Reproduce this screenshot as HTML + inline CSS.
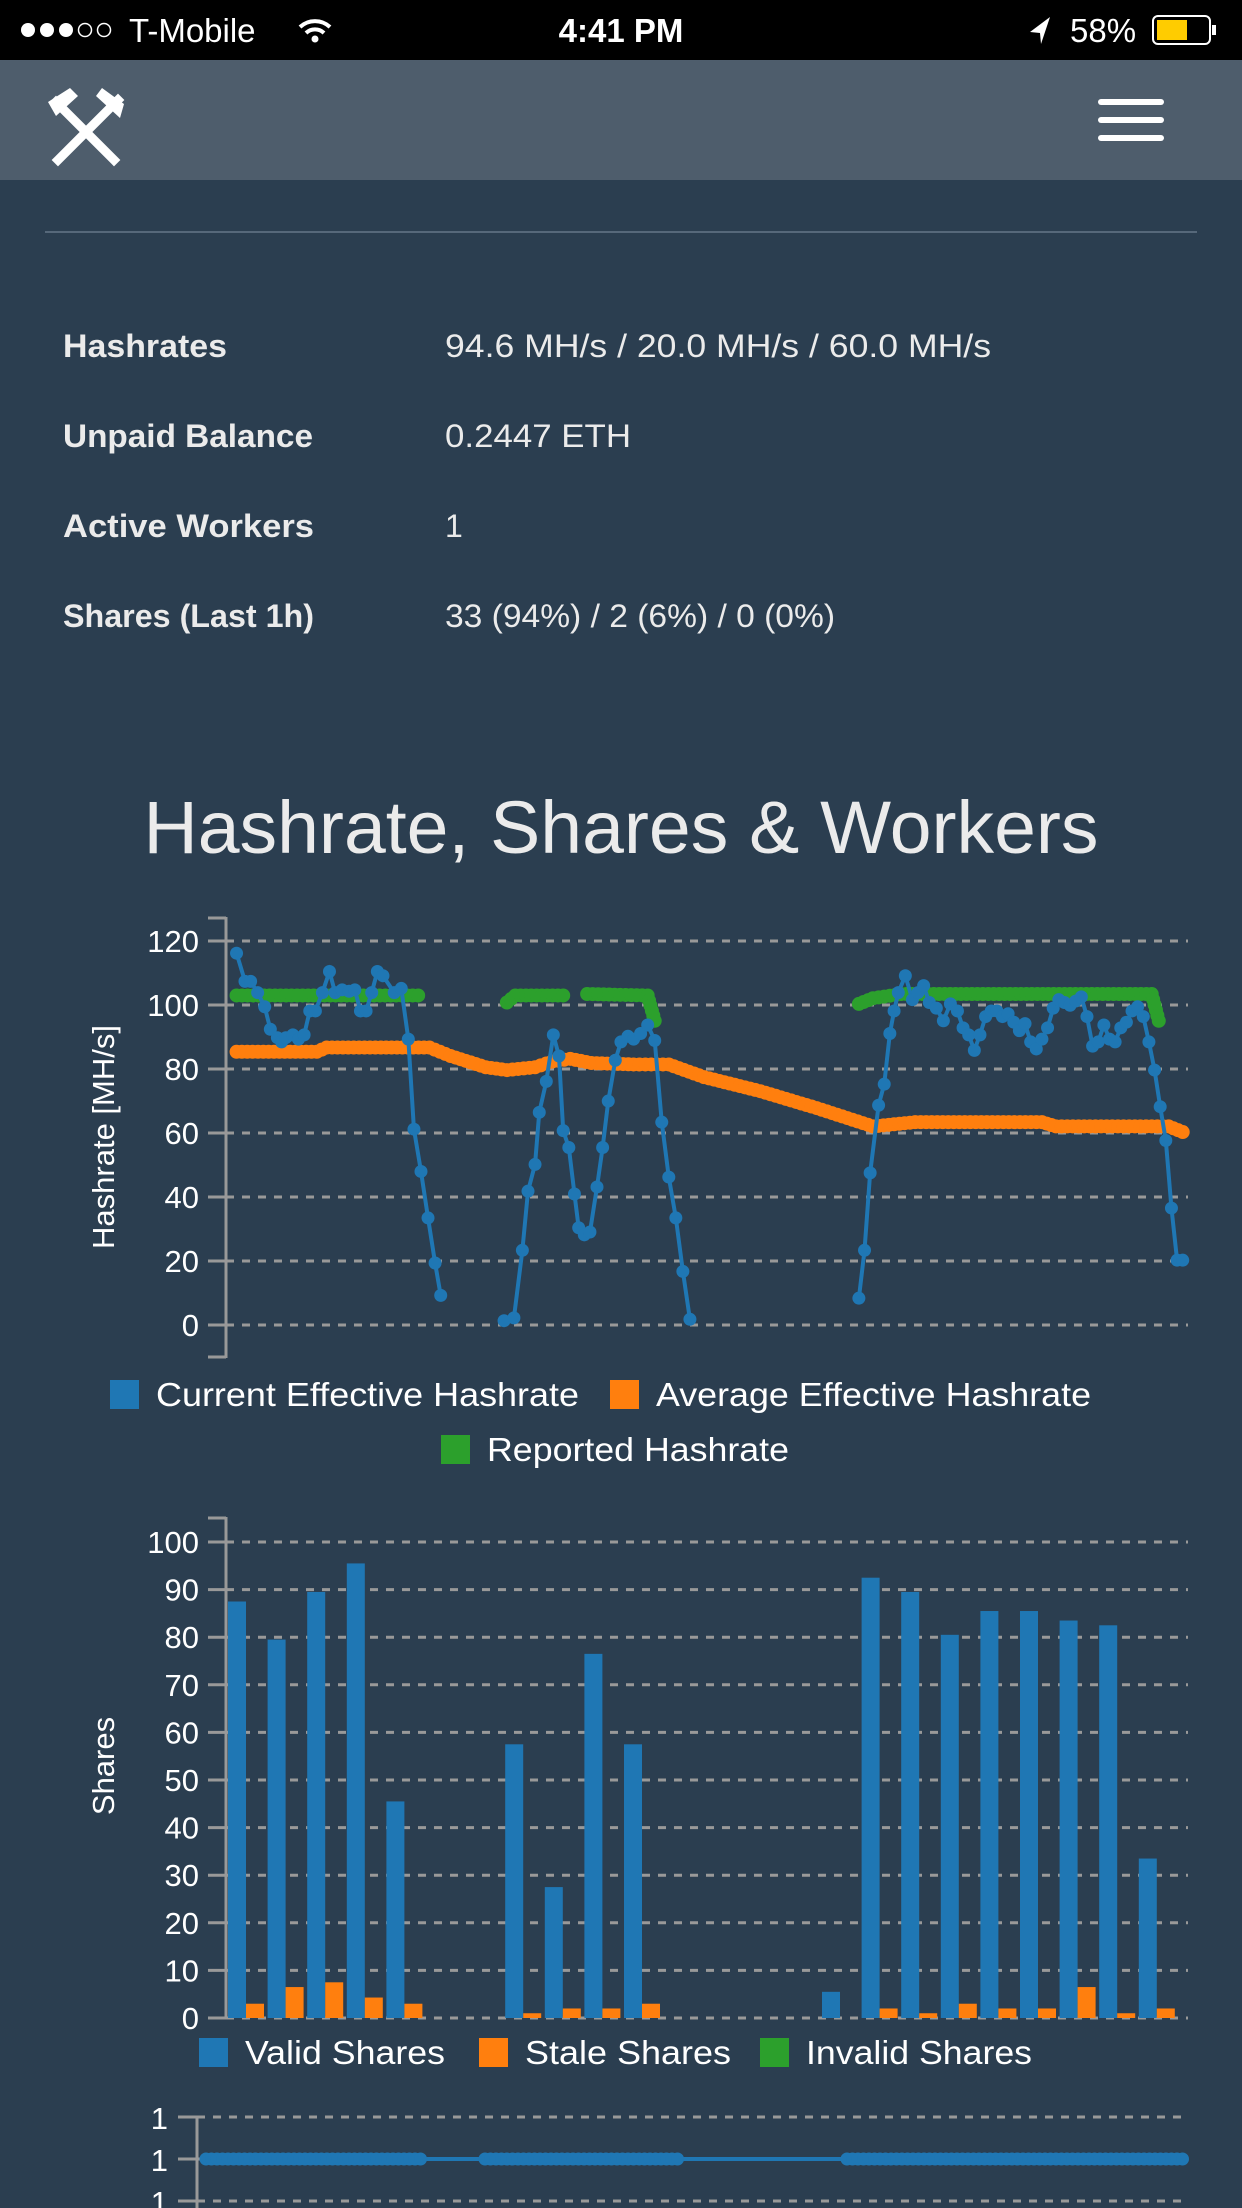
<!DOCTYPE html>
<html><head><meta charset="utf-8"><style>
html,body{margin:0;padding:0;background:#2b3e50;width:1242px;height:2208px;overflow:hidden;font-family:"Liberation Sans",sans-serif}
svg{display:block}
</style></head><body>
<svg id="s" width="1242" height="2208" viewBox="0 0 1242 2208" xmlns="http://www.w3.org/2000/svg" font-family="Liberation Sans, sans-serif">
<rect width="1242" height="2208" fill="#2b3e50"/>
<rect width="1242" height="60" fill="#000"/>
<g fill="#fff"><circle cx="28" cy="30" r="7"/><circle cx="47" cy="30" r="7"/><circle cx="66" cy="30" r="7"/></g>
<g fill="none" stroke="#fff" stroke-width="1.5"><circle cx="85" cy="30" r="6.5"/><circle cx="104" cy="30" r="6.5"/></g>
<text x="129" y="42" fill="#fff" font-size="33">T-Mobile</text>
<g fill="none" stroke="#fff" stroke-width="4"><path d="M300 27 a22 22 0 0 1 30 0"/><path d="M306 33 a13 13 0 0 1 18 0"/></g><circle cx="315" cy="39" r="3.5" fill="#fff"/>
<text x="621" y="42" fill="#fff" font-size="33" font-weight="bold" text-anchor="middle">4:41 PM</text>
<path d="M1050 17 L1030 32 L1040 33 L1041 44 Z" fill="#fff"/>
<text x="1070" y="42" fill="#fff" font-size="33">58%</text>
<rect x="1153" y="16" width="57" height="28" rx="5" fill="none" stroke="#fff" stroke-width="2"/><rect x="1157" y="20" width="30" height="20" fill="#ffcc00"/><rect x="1212" y="25" width="4" height="10" fill="#fff"/>
<rect y="60" width="1242" height="120" fill="#4e5d6c"/>
<g stroke="#fff" stroke-width="9" stroke-linecap="square"><line x1="58" y1="160" x2="118" y2="100"/><line x1="114" y1="160" x2="56" y2="102"/></g>
<path d="M48 102 L70 88 L78 96 L56 116 Z M124 104 L102 88 L96 96 L120 118 Z" fill="#fff"/>
<g fill="#fff"><rect x="1098" y="99" width="66" height="6" rx="3"/><rect x="1098" y="117" width="66" height="6" rx="3"/><rect x="1098" y="135" width="66" height="6" rx="3"/></g>
<rect x="45" y="231" width="1152" height="2" fill="#56687a"/>
<g fill="#ebebeb" font-size="32" lengthAdjust="spacingAndGlyphs">
<text x="63" y="357" font-weight="bold" textLength="164" lengthAdjust="spacingAndGlyphs">Hashrates</text><text x="445" y="357" textLength="546" lengthAdjust="spacingAndGlyphs">94.6 MH/s / 20.0 MH/s / 60.0 MH/s</text>
<text x="63" y="447" font-weight="bold" textLength="250" lengthAdjust="spacingAndGlyphs">Unpaid Balance</text><text x="445" y="447" textLength="186" lengthAdjust="spacingAndGlyphs">0.2447 ETH</text>
<text x="63" y="537" font-weight="bold" textLength="251" lengthAdjust="spacingAndGlyphs">Active Workers</text><text x="445" y="537">1</text>
<text x="63" y="627" font-weight="bold" textLength="251" lengthAdjust="spacingAndGlyphs">Shares (Last 1h)</text><text x="445" y="627" textLength="390" lengthAdjust="spacingAndGlyphs">33 (94%) / 2 (6%) / 0 (0%)</text>
</g>
<text x="621" y="853" fill="#ebebeb" font-size="74" text-anchor="middle" textLength="955" lengthAdjust="spacingAndGlyphs">Hashrate, Shares &amp; Workers</text>
<g id="c1"></g><g id="c2"></g><g id="c3"></g>
</svg>
<script>
var NS="http://www.w3.org/2000/svg";
function el(p,t,a,txt){var e=document.createElementNS(NS,t);for(var k in a)e.setAttribute(k,a[k]);if(txt!=null)e.textContent=txt;p.appendChild(e);return e;}
var c1=document.getElementById('c1'),c2=document.getElementById('c2'),c3=document.getElementById('c3');
var G="#999";
var y0=1325,ppu=64/20;
function Y1(v){return y0-v*ppu;}
el(c1,'line',{x1:226,y1:917,x2:226,y2:1358,stroke:G,'stroke-width':3});
el(c1,'line',{x1:208,y1:918,x2:226,y2:918,stroke:G,'stroke-width':3});
el(c1,'line',{x1:208,y1:1357,x2:226,y2:1357,stroke:G,'stroke-width':3});
for(var v=0;v<=120;v+=20){var y=Y1(v);el(c1,'line',{x1:226,y1:y,x2:1188,y2:y,stroke:G,'stroke-width':3,'stroke-dasharray':'8,8'});el(c1,'line',{x1:208,y1:y,x2:226,y2:y,stroke:G,'stroke-width':3});el(c1,'text',{x:199,y:y+11,fill:'#fff','font-size':31,'text-anchor':'end'},v);}
el(c1,'text',{x:0,y:0,fill:'#fff','font-size':31,'text-anchor':'middle',transform:'translate(114,1137) rotate(-90)'},'Hashrate [MH/s]');
var S=1.408;
function conv(a){var r=[];for(var i=0;i<a.length;i+=2)r.push([a[i]*S,a[i+1]*S]);return r;}
function series(p,pts,col,rad,lw,dense){
 el(p,'polyline',{points:pts.map(function(q){return q[0]+','+q[1]}).join(' '),fill:'none',stroke:col,'stroke-width':lw});
 var ms=[];
 if(dense){for(var i=0;i<pts.length-1;i++){var a=pts[i],b=pts[i+1],d=Math.hypot(b[0]-a[0],b[1]-a[1]),n=Math.max(1,Math.round(d/dense));for(var j=0;j<n;j++)ms.push([a[0]+(b[0]-a[0])*j/n,a[1]+(b[1]-a[1])*j/n]);}ms.push(pts[pts.length-1]);}
 else ms=pts;
 ms.forEach(function(q){el(p,'circle',{cx:q[0],cy:q[1],r:rad,fill:col});});
}
var OR="#ff7f0e",BL="#1f77b4",GR="#2ca02c";
series(c1,conv([168,747,225,747,232,744,305,744,320,750,345,758,360,760,380,758,392,754,405,752,420,755,450,756,475,756,500,765,540,775,580,787,620,800,650,797,740,797,750,800,830,800,840,804]),OR,7,4,5.5);
[[168,707,297,707],[360,712,366,707,400,707],[417,706,460,707,465,725],[610,713,620,709,640,706,818,706,823,725]].forEach(function(a){series(c1,conv(a),GR,7,4,5.5);});
[[168,677,174,697,178,697,183,705,188,715,192,731,197,737,200,740,203,737,208,735,212,738,216,735,220,718,224,718,229,705,234,690,238,705,243,703,248,704,252,703,256,718,260,718,264,705,268,690,272,693,280,705,285,702,290,738,294,802,299,832,304,865,309,897,313,920],
[358,938,365,936,371,888,375,846,380,827,383,790,388,768,393,735,397,750,400,803,404,815,408,848,411,872,415,877,419,875,424,843,428,815,432,782,437,753,441,740,446,736,450,738,455,734,460,728,465,739,470,797,475,836,480,865,485,903,490,937],
[610,922,614,888,618,833,624,785,628,770,632,734,635,718,638,705,643,693,648,710,652,705,656,700,660,712,665,716,670,725,675,713,680,718,684,730,688,735,692,746,696,735,700,722,704,718,708,718,712,722,716,720,720,726,724,732,728,727,732,740,736,745,740,738,744,730,748,716,752,710,756,712,760,714,764,711,768,708,772,722,776,743,780,740,784,728,788,738,792,740,796,730,800,726,804,718,808,715,812,722,816,740,820,760,824,786,828,810,832,858,836,895,840,895]].forEach(function(a){series(c1,conv(a),BL,6.5,4,0);});
function leg(p,x,y,col,t,tl){el(p,'rect',{x:x,y:y-15,width:29,height:29,fill:col});el(p,'text',{x:x+46,y:y+11,fill:'#fff','font-size':33,textLength:tl,lengthAdjust:'spacingAndGlyphs'},t);}
leg(c1,110,1395,BL,'Current Effective Hashrate',423);leg(c1,610,1395,OR,'Average Effective Hashrate',435);leg(c1,441,1450,GR,'Reported Hashrate',302);
var z=2018,pu=47.6/10;
el(c2,'line',{x1:226,y1:1517,x2:226,y2:2018,stroke:G,'stroke-width':3});
el(c2,'line',{x1:208,y1:1518,x2:226,y2:1518,stroke:G,'stroke-width':3});
for(var v=0;v<=100;v+=10){var y=z-v*pu;el(c2,'line',{x1:226,y1:y,x2:1188,y2:y,stroke:G,'stroke-width':3,'stroke-dasharray':'8,8'});el(c2,'line',{x1:208,y1:y,x2:226,y2:y,stroke:G,'stroke-width':3});el(c2,'text',{x:199,y:y+11,fill:'#fff','font-size':31,'text-anchor':'end'},v);}
el(c2,'text',{x:0,y:0,fill:'#fff','font-size':31,'text-anchor':'middle',transform:'translate(114,1766) rotate(-90)'},'Shares');
var idx=[0,1,2,3,4,7,8,9,10,15,16,17,18,19,20,21,22,23];
var bv=[87.5,79.5,89.5,95.5,45.5,57.5,27.5,76.5,57.5,5.5,92.5,89.5,80.5,85.5,85.5,83.5,82.5,33.5];
var ov=[3,6.5,7.5,4.3,3,1,2,2,3,0,2,1,3,2,2,6.5,1,2];
idx.forEach(function(i,k){var x=228+i*39.6;el(c2,'rect',{x:x,y:z-bv[k]*pu,width:18,height:bv[k]*pu,fill:BL});if(ov[k])el(c2,'rect',{x:x+18,y:z-ov[k]*pu,width:18,height:ov[k]*pu,fill:OR});});
leg(c2,199,2053,BL,'Valid Shares',200);leg(c2,479,2053,OR,'Stale Shares',206);leg(c2,760,2053,GR,'Invalid Shares',226);
el(c3,'line',{x1:197,y1:2117,x2:197,y2:2208,stroke:G,'stroke-width':3});
[2117,2159,2201].forEach(function(y){el(c3,'line',{x1:197,y1:y,x2:1188,y2:y,stroke:G,'stroke-width':3,'stroke-dasharray':'8,8'});el(c3,'line',{x1:178,y1:y,x2:197,y2:y,stroke:G,'stroke-width':3});el(c3,'text',{x:168,y:y+12,fill:'#fff','font-size':31,'text-anchor':'end'},'1');});
el(c3,'line',{x1:206,y1:2159,x2:1183,y2:2159,stroke:BL,'stroke-width':4});
[[206,422],[485,678],[847,1183]].forEach(function(r){for(var x=r[0];x<=r[1];x+=5.5)el(c3,'circle',{cx:x,cy:2159,r:6.5,fill:BL});});
</script>
</body></html>
